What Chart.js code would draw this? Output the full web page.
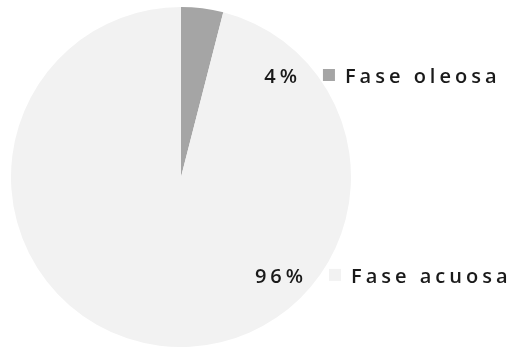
<!DOCTYPE html>
<html><head><meta charset="utf-8">
<style>html,body{margin:0;padding:0;background:#fff}#wrap{width:508px;height:347px}</style>
<script src="https://cdn.jsdelivr.net/npm/chart.js@4/dist/chart.umd.min.js"></script>
</head><body><div id="wrap"><canvas id="c" width="508" height="347"></canvas></div>
<script>
const categories = ["Fase oleosa", "Fase acuosa"];
const values = [4, 96];
const valueLabels = ["4%", "96%"];
const colors = ["#a5a5a5", "#f2f2f2"];
// label anchors relative to pie centre, in units of radius (right edge of value text, vertical middle)
const anchors = [[0.682, -0.60], [0.718, 0.576]];

const labelPlugin = {
  id: 'excelLabels',
  afterDatasetsDraw(chart) {
    const ctx = chart.ctx;
    const meta = chart.getDatasetMeta(0);
    meta.data.forEach((arc, i) => {
      const r = arc.outerRadius;
      const x = arc.x + anchors[i][0] * r;
      const y = arc.y + anchors[i][1] * r;
      ctx.save();
      ctx.font = '600 20px "Open Sans"';
      ctx.letterSpacing = '4px';
      ctx.fillStyle = '#1a1a1a';
      ctx.textBaseline = 'alphabetic';
      ctx.textAlign = 'right';
      ctx.fillText(valueLabels[i], x + 4, y + 8);
      ctx.fillStyle = colors[i];
      ctx.fillRect(x + 26, y - 6, 12, 12);
      ctx.fillStyle = '#1a1a1a';
      ctx.textAlign = 'left';
      ctx.fillText(categories[i], x + 48, y + 8);
      ctx.restore();
    });
  }
};

new Chart(document.getElementById('c'), {
  type: 'pie',
  data: { labels: categories, datasets: [{ data: values, backgroundColor: colors, borderWidth: 0 }] },
  options: {
    responsive: false, animation: false,
    layout: { padding: { left: 11, top: 7, right: 157, bottom: 0 } },
    plugins: { legend: { display: false }, tooltip: { enabled: false } }
  },
  plugins: [labelPlugin]
});
</script></body></html>
